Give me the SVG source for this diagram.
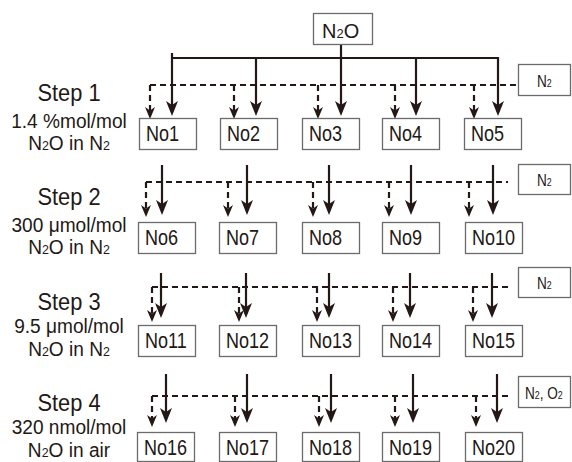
<svg xmlns="http://www.w3.org/2000/svg" width="572" height="462" viewBox="0 0 572 462">
<style>
.bx{fill:#fff;stroke:#6b6b6b;stroke-width:1.3}
.t{font-family:"Liberation Sans",Arial,sans-serif;fill:#231815}
.bt{font-size:22px}
.st{font-size:23px;text-anchor:middle}
.sc{font-size:21px;text-anchor:middle}
.lb{font-size:16px}
.sub{font-size:65%}
.s{stroke:#231815;stroke-width:2.2;fill:none}
.d{stroke:#231815;stroke-width:2.2;fill:none;stroke-dasharray:6 4}
.sa{marker-end:url(#ah)}
.da{marker-end:url(#dh)}
</style>
<defs>
<marker id="ah" markerUnits="userSpaceOnUse" viewBox="0 0 15 12" markerWidth="15" markerHeight="12" refX="11" refY="6" orient="auto"><path d="M0,0 L15,6 L0,12 L4,6 Z" fill="#231815"/></marker>
<marker id="dh" markerUnits="userSpaceOnUse" viewBox="0 0 12 10" markerWidth="12" markerHeight="10" refX="8" refY="5" orient="auto"><path d="M0,0 L12,5 L0,10 L3.5,5 Z" fill="#231815"/></marker>
</defs>

<g id="labels" class="t">
<text class="st" transform="translate(69,101) scale(0.95,1)">Step 1</text>
<text class="sc" transform="translate(69,128) scale(0.91,1)">1.4 %mol/mol</text>
<text class="sc" transform="translate(69,150) scale(0.91,1)">N<tspan class="sub">2</tspan>O in N<tspan class="sub">2</tspan></text>
<text class="st" transform="translate(69,205) scale(0.95,1)">Step 2</text>
<text class="sc" transform="translate(69,232) scale(0.91,1)">300 μmol/mol</text>
<text class="sc" transform="translate(69,254) scale(0.91,1)">N<tspan class="sub">2</tspan>O in N<tspan class="sub">2</tspan></text>
<text class="st" transform="translate(69,310) scale(0.95,1)">Step 3</text>
<text class="sc" transform="translate(69,333) scale(0.91,1)">9.5 μmol/mol</text>
<text class="sc" transform="translate(69,356) scale(0.91,1)">N<tspan class="sub">2</tspan>O in N<tspan class="sub">2</tspan></text>
<text class="st" transform="translate(69,411) scale(0.95,1)">Step 4</text>
<text class="sc" transform="translate(69,434) scale(0.91,1)">320 nmol/mol</text>
<text class="sc" transform="translate(69,457) scale(0.91,1)">N<tspan class="sub">2</tspan>O in air</text>
</g>

<g id="connectors">
<path class="s" d="M172,58 H498" stroke-width="2.5"/>
<line class="s sa" x1="341" y1="44" x2="341" y2="112"/>
<line class="s sa" x1="172" y1="53" x2="172" y2="112"/>
<line class="s sa" x1="256" y1="57" x2="256" y2="112"/>
<line class="s sa" x1="416" y1="57" x2="416" y2="112"/>
<line class="s sa" x1="498" y1="57" x2="498" y2="112"/>
<line class="d" x1="150" y1="85" x2="517" y2="85"/>
<line class="d da" x1="150" y1="85" x2="150" y2="115"/>
<line class="d da" x1="234" y1="85" x2="234" y2="115"/>
<line class="d da" x1="318" y1="85" x2="318" y2="115"/>
<line class="d da" x1="395" y1="85" x2="395" y2="115"/>
<line class="d da" x1="474" y1="85" x2="474" y2="115"/>
<line class="d" x1="146" y1="182" x2="508" y2="182"/>
<line class="s sa" x1="162" y1="165" x2="162" y2="211"/>
<line class="s sa" x1="247" y1="165" x2="247" y2="211"/>
<line class="s sa" x1="329" y1="165" x2="329" y2="211"/>
<line class="s sa" x1="411" y1="165" x2="411" y2="211"/>
<line class="s sa" x1="493" y1="165" x2="493" y2="211"/>
<line class="d da" x1="146" y1="182" x2="146" y2="213"/>
<line class="d da" x1="228" y1="182" x2="228" y2="213"/>
<line class="d da" x1="313" y1="182" x2="313" y2="213"/>
<line class="d da" x1="389" y1="182" x2="389" y2="213"/>
<line class="d da" x1="469" y1="182" x2="469" y2="213"/>
<line class="d" x1="152" y1="287" x2="508" y2="287"/>
<line class="s sa" x1="161" y1="273" x2="161" y2="314"/>
<line class="s sa" x1="246" y1="273" x2="246" y2="314"/>
<line class="s sa" x1="329" y1="273" x2="329" y2="314"/>
<line class="s sa" x1="410" y1="273" x2="410" y2="314"/>
<line class="s sa" x1="492" y1="273" x2="492" y2="314"/>
<line class="d da" x1="152" y1="287" x2="152" y2="318"/>
<line class="d da" x1="239" y1="287" x2="239" y2="318"/>
<line class="d da" x1="317" y1="287" x2="317" y2="318"/>
<line class="d da" x1="393" y1="287" x2="393" y2="318"/>
<line class="d da" x1="473" y1="287" x2="473" y2="318"/>
<line class="d" x1="152" y1="396" x2="510" y2="396"/>
<line class="s sa" x1="166" y1="374" x2="166" y2="419"/>
<line class="s sa" x1="247" y1="374" x2="247" y2="419"/>
<line class="s sa" x1="331" y1="374" x2="331" y2="419"/>
<line class="s sa" x1="413" y1="374" x2="413" y2="419"/>
<line class="s sa" x1="497" y1="374" x2="497" y2="419"/>
<line class="d da" x1="152" y1="396" x2="152" y2="423"/>
<line class="d da" x1="235" y1="396" x2="235" y2="423"/>
<line class="d da" x1="319" y1="396" x2="319" y2="423"/>
<line class="d da" x1="395" y1="396" x2="395" y2="423"/>
<line class="d da" x1="476" y1="396" x2="476" y2="423"/>
</g>

<g id="N2O"><rect class="bx" x="313.5" y="13.5" width="59" height="31"/><text class="t" font-size="21" transform="translate(322,38) scale(0.95,1)">N<tspan class="sub">2</tspan>O</text></g>

<g id="gas1"><rect class="bx" x="518.5" y="64.5" width="52" height="31"/><text class="t lb" transform="translate(537,87) scale(0.85,1)">N<tspan class="sub">2</tspan></text></g>
<g id="gas2"><rect class="bx" x="518.5" y="164.5" width="52" height="30"/><text class="t lb" transform="translate(537,186) scale(0.85,1)">N<tspan class="sub">2</tspan></text></g>
<g id="gas3"><rect class="bx" x="518.5" y="267.5" width="52" height="30"/><text class="t lb" transform="translate(537,289) scale(0.85,1)">N<tspan class="sub">2</tspan></text></g>
<g id="gas4"><rect class="bx" x="518.5" y="376.5" width="52" height="31"/><text class="t lb" transform="translate(525,399) scale(0.85,1)">N<tspan class="sub">2</tspan>, O<tspan class="sub">2</tspan></text></g>

<g id="No1"><rect class="bx" x="139.5" y="118.5" width="57" height="31"/><text class="t bt" transform="translate(146,141) scale(0.82,1)">No1</text></g>
<g id="No2"><rect class="bx" x="220.5" y="118.5" width="57" height="31"/><text class="t bt" transform="translate(227,141) scale(0.82,1)">No2</text></g>
<g id="No3"><rect class="bx" x="302.5" y="118.5" width="57" height="31"/><text class="t bt" transform="translate(309,141) scale(0.82,1)">No3</text></g>
<g id="No4"><rect class="bx" x="382.5" y="118.5" width="57" height="31"/><text class="t bt" transform="translate(389,141) scale(0.82,1)">No4</text></g>
<g id="No5"><rect class="bx" x="464.5" y="118.5" width="57" height="31"/><text class="t bt" transform="translate(471,141) scale(0.82,1)">No5</text></g>

<g id="No6"><rect class="bx" x="138.5" y="222.5" width="57" height="31"/><text class="t bt" transform="translate(145,245) scale(0.82,1)">No6</text></g>
<g id="No7"><rect class="bx" x="219.5" y="222.5" width="57" height="31"/><text class="t bt" transform="translate(226,245) scale(0.82,1)">No7</text></g>
<g id="No8"><rect class="bx" x="302.5" y="222.5" width="57" height="31"/><text class="t bt" transform="translate(309,245) scale(0.82,1)">No8</text></g>
<g id="No9"><rect class="bx" x="382.5" y="222.5" width="57" height="31"/><text class="t bt" transform="translate(389,245) scale(0.82,1)">No9</text></g>
<g id="No10"><rect class="bx" x="465.5" y="222.5" width="57" height="31"/><text class="t bt" transform="translate(472,245) scale(0.82,1)">No10</text></g>

<g id="No11"><rect class="bx" x="138.5" y="325.5" width="57" height="31"/><text class="t bt" transform="translate(145,348) scale(0.82,1)">No11</text></g>
<g id="No12"><rect class="bx" x="219.5" y="325.5" width="57" height="31"/><text class="t bt" transform="translate(226,348) scale(0.82,1)">No12</text></g>
<g id="No13"><rect class="bx" x="302.5" y="325.5" width="57" height="31"/><text class="t bt" transform="translate(309,348) scale(0.82,1)">No13</text></g>
<g id="No14"><rect class="bx" x="382.5" y="325.5" width="57" height="31"/><text class="t bt" transform="translate(389,348) scale(0.82,1)">No14</text></g>
<g id="No15"><rect class="bx" x="465.5" y="325.5" width="57" height="31"/><text class="t bt" transform="translate(472,348) scale(0.82,1)">No15</text></g>

<g id="No16"><rect class="bx" x="137.5" y="432.5" width="57" height="29"/><text class="t bt" transform="translate(144,455) scale(0.82,1)">No16</text></g>
<g id="No17"><rect class="bx" x="219.5" y="432.5" width="57" height="29"/><text class="t bt" transform="translate(226,455) scale(0.82,1)">No17</text></g>
<g id="No18"><rect class="bx" x="302.5" y="432.5" width="57" height="29"/><text class="t bt" transform="translate(309,455) scale(0.82,1)">No18</text></g>
<g id="No19"><rect class="bx" x="382.5" y="432.5" width="57" height="29"/><text class="t bt" transform="translate(389,455) scale(0.82,1)">No19</text></g>
<g id="No20"><rect class="bx" x="465.5" y="432.5" width="57" height="29"/><text class="t bt" transform="translate(472,455) scale(0.82,1)">No20</text></g>
</svg>
